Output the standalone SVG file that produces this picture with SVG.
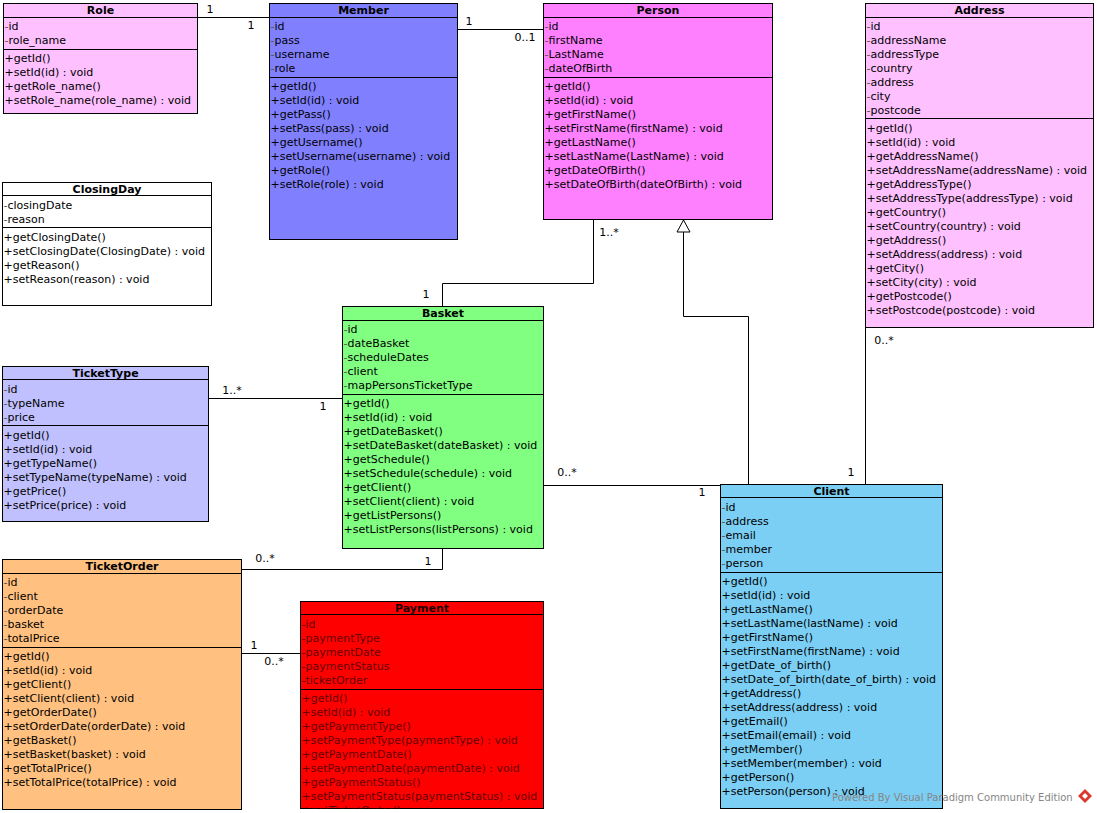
<svg xmlns="http://www.w3.org/2000/svg" width="1097" height="813" viewBox="0 0 1097 813">
  <defs>
    <style>
      text { font-family: "DejaVu Sans", "Liberation Sans", sans-serif; font-size: 11px; fill: #000; }
      .title { font-weight: bold; text-anchor: middle; }
      .box { stroke: #000; stroke-width: 1; }
      .div { stroke: #000; stroke-width: 1; }
      .vis { fill: #555; }
      .conn { fill: none; stroke: #000; stroke-width: 1; }
      .mult { text-anchor: middle; }
      .pay text { fill: #640000; }
      .pay text.title { fill: #1a0000; }
      .brand { font-size: 10px; fill: #858585; }
    </style>
    <clipPath id="payClip"><rect x="300.5" y="601.5" width="243" height="207"/></clipPath>
  </defs>
  <rect width="1097" height="813" fill="#fff"/>

  <!-- associations and generalization -->
  <g id="connectors">
    <path class="conn" d="M197.5,17.5 H269.5"/>
    <path class="conn" d="M457.5,29.5 H543.5"/>
    <path class="conn" d="M593.5,219.5 V283.5 H442.5 V306.5"/>
    <path class="conn" d="M748.5,484.5 V316.5 H683.5 V232"/>
    <polygon points="683.5,220 677,232 690,232" fill="#fff" stroke="#000" stroke-width="1"/>
    <path class="conn" d="M865.5,327.5 V484.5"/>
    <path class="conn" d="M543.5,485.5 H720.5"/>
    <path class="conn" d="M208.5,398.5 H342.5"/>
    <path class="conn" d="M442.5,548.5 V569.5 H241.5"/>
    <path class="conn" d="M241.5,653.5 H300.5"/>
    <text class="mult" x="210" y="13">1</text>
    <text class="mult" x="251" y="29">1</text>
    <text class="mult" x="469" y="25">1</text>
    <text class="mult" x="525" y="41">0..1</text>
    <text class="mult" x="609" y="236">1..*</text>
    <text class="mult" x="426" y="298">1</text>
    <text class="mult" x="232" y="394">1..*</text>
    <text class="mult" x="323" y="410">1</text>
    <text class="mult" x="567" y="476">0..*</text>
    <text class="mult" x="702" y="496">1</text>
    <text class="mult" x="884" y="344">0..*</text>
    <text class="mult" x="851" y="476">1</text>
    <text class="mult" x="265" y="562">0..*</text>
    <text class="mult" x="428" y="565">1</text>
    <text class="mult" x="254" y="649">1</text>
    <text class="mult" x="274" y="665">0..*</text>
  </g>

  <g id="Role">
    <rect class="box" x="3.5" y="3.5" width="194" height="110" fill="#ffc0ff"/>
    <path class="div" d="M3.5,17.5 H197.5 M3.5,49.5 H197.5"/>
    <text class="title" x="100.5" y="14">Role</text>
    <text x="4.5" y="30"><tspan class="vis">-</tspan>id</text>
    <text x="4.5" y="44"><tspan class="vis">-</tspan>role_name</text>
    <text x="4.5" y="62">+getId()</text>
    <text x="4.5" y="76">+setId(id) : void</text>
    <text x="4.5" y="90">+getRole_name()</text>
    <text x="4.5" y="104">+setRole_name(role_name) : void</text>
  </g>

  <g id="Member">
    <rect class="box" x="269.5" y="3.5" width="188" height="236" fill="#8080ff"/>
    <path class="div" d="M269.5,17.5 H457.5 M269.5,77.5 H457.5"/>
    <text class="title" x="363.5" y="14">Member</text>
    <text x="270.5" y="30"><tspan class="vis">-</tspan>id</text>
    <text x="270.5" y="44"><tspan class="vis">-</tspan>pass</text>
    <text x="270.5" y="58"><tspan class="vis">-</tspan>username</text>
    <text x="270.5" y="72"><tspan class="vis">-</tspan>role</text>
    <text x="270.5" y="90">+getId()</text>
    <text x="270.5" y="104">+setId(id) : void</text>
    <text x="270.5" y="118">+getPass()</text>
    <text x="270.5" y="132">+setPass(pass) : void</text>
    <text x="270.5" y="146">+getUsername()</text>
    <text x="270.5" y="160">+setUsername(username) : void</text>
    <text x="270.5" y="174">+getRole()</text>
    <text x="270.5" y="188">+setRole(role) : void</text>
  </g>

  <g id="Person">
    <rect class="box" x="543.5" y="3.5" width="229" height="216" fill="#ff80ff"/>
    <path class="div" d="M543.5,17.5 H772.5 M543.5,77.5 H772.5"/>
    <text class="title" x="658" y="14">Person</text>
    <text x="544.5" y="30"><tspan class="vis">-</tspan>id</text>
    <text x="544.5" y="44"><tspan class="vis">-</tspan>firstName</text>
    <text x="544.5" y="58"><tspan class="vis">-</tspan>LastName</text>
    <text x="544.5" y="72"><tspan class="vis">-</tspan>dateOfBirth</text>
    <text x="544.5" y="90">+getId()</text>
    <text x="544.5" y="104">+setId(id) : void</text>
    <text x="544.5" y="118">+getFirstName()</text>
    <text x="544.5" y="132">+setFirstName(firstName) : void</text>
    <text x="544.5" y="146">+getLastName()</text>
    <text x="544.5" y="160">+setLastName(LastName) : void</text>
    <text x="544.5" y="174">+getDateOfBirth()</text>
    <text x="544.5" y="188">+setDateOfBirth(dateOfBirth) : void</text>
  </g>

  <g id="Address">
    <rect class="box" x="865.5" y="3.5" width="228" height="324" fill="#ffc0ff"/>
    <path class="div" d="M865.5,17.5 H1093.5 M865.5,118.5 H1093.5"/>
    <text class="title" x="979.5" y="14">Address</text>
    <text x="866.5" y="30"><tspan class="vis">-</tspan>id</text>
    <text x="866.5" y="44"><tspan class="vis">-</tspan>addressName</text>
    <text x="866.5" y="58"><tspan class="vis">-</tspan>addressType</text>
    <text x="866.5" y="72"><tspan class="vis">-</tspan>country</text>
    <text x="866.5" y="86"><tspan class="vis">-</tspan>address</text>
    <text x="866.5" y="100"><tspan class="vis">-</tspan>city</text>
    <text x="866.5" y="114"><tspan class="vis">-</tspan>postcode</text>
    <text x="866.5" y="132">+getId()</text>
    <text x="866.5" y="146">+setId(id) : void</text>
    <text x="866.5" y="160">+getAddressName()</text>
    <text x="866.5" y="174">+setAddressName(addressName) : void</text>
    <text x="866.5" y="188">+getAddressType()</text>
    <text x="866.5" y="202">+setAddressType(addressType) : void</text>
    <text x="866.5" y="216">+getCountry()</text>
    <text x="866.5" y="230">+setCountry(country) : void</text>
    <text x="866.5" y="244">+getAddress()</text>
    <text x="866.5" y="258">+setAddress(address) : void</text>
    <text x="866.5" y="272">+getCity()</text>
    <text x="866.5" y="286">+setCity(city) : void</text>
    <text x="866.5" y="300">+getPostcode()</text>
    <text x="866.5" y="314">+setPostcode(postcode) : void</text>
  </g>

  <g id="ClosingDay">
    <rect class="box" x="2.5" y="182.5" width="209" height="123" fill="#fff"/>
    <path class="div" d="M2.5,195.5 H211.5 M2.5,227.5 H211.5"/>
    <text class="title" x="107" y="193">ClosingDay</text>
    <text x="3.5" y="209"><tspan class="vis">-</tspan>closingDate</text>
    <text x="3.5" y="223"><tspan class="vis">-</tspan>reason</text>
    <text x="3.5" y="241">+getClosingDate()</text>
    <text x="3.5" y="255">+setClosingDate(ClosingDate) : void</text>
    <text x="3.5" y="269">+getReason()</text>
    <text x="3.5" y="283">+setReason(reason) : void</text>
  </g>

  <g id="TicketType">
    <rect class="box" x="2.5" y="366.5" width="206" height="155" fill="#c0c0ff"/>
    <path class="div" d="M2.5,379.5 H208.5 M2.5,425.5 H208.5"/>
    <text class="title" x="105.5" y="377">TicketType</text>
    <text x="3.5" y="393"><tspan class="vis">-</tspan>id</text>
    <text x="3.5" y="407"><tspan class="vis">-</tspan>typeName</text>
    <text x="3.5" y="421"><tspan class="vis">-</tspan>price</text>
    <text x="3.5" y="439">+getId()</text>
    <text x="3.5" y="453">+setId(id) : void</text>
    <text x="3.5" y="467">+getTypeName()</text>
    <text x="3.5" y="481">+setTypeName(typeName) : void</text>
    <text x="3.5" y="495">+getPrice()</text>
    <text x="3.5" y="509">+setPrice(price) : void</text>
  </g>

  <g id="Basket">
    <rect class="box" x="342.5" y="306.5" width="201" height="242" fill="#80ff80"/>
    <path class="div" d="M342.5,320.5 H543.5 M342.5,394.5 H543.5"/>
    <text class="title" x="443" y="317">Basket</text>
    <text x="343.5" y="333"><tspan class="vis">-</tspan>id</text>
    <text x="343.5" y="347"><tspan class="vis">-</tspan>dateBasket</text>
    <text x="343.5" y="361"><tspan class="vis">-</tspan>scheduleDates</text>
    <text x="343.5" y="375"><tspan class="vis">-</tspan>client</text>
    <text x="343.5" y="389"><tspan class="vis">-</tspan>mapPersonsTicketType</text>
    <text x="343.5" y="407">+getId()</text>
    <text x="343.5" y="421">+setId(id) : void</text>
    <text x="343.5" y="435">+getDateBasket()</text>
    <text x="343.5" y="449">+setDateBasket(dateBasket) : void</text>
    <text x="343.5" y="463">+getSchedule()</text>
    <text x="343.5" y="477">+setSchedule(schedule) : void</text>
    <text x="343.5" y="491">+getClient()</text>
    <text x="343.5" y="505">+setClient(client) : void</text>
    <text x="343.5" y="519">+getListPersons()</text>
    <text x="343.5" y="533">+setListPersons(listPersons) : void</text>
  </g>

  <g id="TicketOrder">
    <rect class="box" x="2.5" y="559.5" width="239" height="250" fill="#ffc080"/>
    <path class="div" d="M2.5,573.5 H241.5 M2.5,647.5 H241.5"/>
    <text class="title" x="122" y="570">TicketOrder</text>
    <text x="3.5" y="586"><tspan class="vis">-</tspan>id</text>
    <text x="3.5" y="600"><tspan class="vis">-</tspan>client</text>
    <text x="3.5" y="614"><tspan class="vis">-</tspan>orderDate</text>
    <text x="3.5" y="628"><tspan class="vis">-</tspan>basket</text>
    <text x="3.5" y="642"><tspan class="vis">-</tspan>totalPrice</text>
    <text x="3.5" y="660">+getId()</text>
    <text x="3.5" y="674">+setId(id) : void</text>
    <text x="3.5" y="688">+getClient()</text>
    <text x="3.5" y="702">+setClient(client) : void</text>
    <text x="3.5" y="716">+getOrderDate()</text>
    <text x="3.5" y="730">+setOrderDate(orderDate) : void</text>
    <text x="3.5" y="744">+getBasket()</text>
    <text x="3.5" y="758">+setBasket(basket) : void</text>
    <text x="3.5" y="772">+getTotalPrice()</text>
    <text x="3.5" y="786">+setTotalPrice(totalPrice) : void</text>
  </g>

  <g id="Payment" class="pay">
    <rect class="box" x="300.5" y="601.5" width="243" height="207" fill="#ff0000"/>
    <path class="div" d="M300.5,614.5 H543.5 M300.5,689.5 H543.5"/>
    <text class="title" x="422" y="612">Payment</text>
    <g clip-path="url(#payClip)">
      <text x="301.5" y="628">-id</text>
      <text x="301.5" y="642">-paymentType</text>
      <text x="301.5" y="656">-paymentDate</text>
      <text x="301.5" y="670">-paymentStatus</text>
      <text x="301.5" y="684">-ticketOrder</text>
      <text x="301.5" y="702">+getId()</text>
      <text x="301.5" y="716">+setId(id) : void</text>
      <text x="301.5" y="730">+getPaymentType()</text>
      <text x="301.5" y="744">+setPaymentType(paymentType) : void</text>
      <text x="301.5" y="758">+getPaymentDate()</text>
      <text x="301.5" y="772">+setPaymentDate(paymentDate) : void</text>
      <text x="301.5" y="786">+getPaymentStatus()</text>
      <text x="301.5" y="800">+setPaymentStatus(paymentStatus) : void</text>
      <text x="301.5" y="814">+getTicketOrder()</text>
    </g>
  </g>

  <g id="Client">
    <rect class="box" x="720.5" y="484.5" width="222" height="324" fill="#7ccff4"/>
    <path class="div" d="M720.5,497.5 H942.5 M720.5,572.5 H942.5"/>
    <text class="title" x="831.5" y="495">Client</text>
    <text x="721.5" y="511"><tspan class="vis">-</tspan>id</text>
    <text x="721.5" y="525"><tspan class="vis">-</tspan>address</text>
    <text x="721.5" y="539"><tspan class="vis">-</tspan>email</text>
    <text x="721.5" y="553"><tspan class="vis">-</tspan>member</text>
    <text x="721.5" y="567"><tspan class="vis">-</tspan>person</text>
    <text x="721.5" y="585">+getId()</text>
    <text x="721.5" y="599">+setId(id) : void</text>
    <text x="721.5" y="613">+getLastName()</text>
    <text x="721.5" y="627">+setLastName(lastName) : void</text>
    <text x="721.5" y="641">+getFirstName()</text>
    <text x="721.5" y="655">+setFirstName(firstName) : void</text>
    <text x="721.5" y="669">+getDate_of_birth()</text>
    <text x="721.5" y="683">+setDate_of_birth(date_of_birth) : void</text>
    <text x="721.5" y="697">+getAddress()</text>
    <text x="721.5" y="711">+setAddress(address) : void</text>
    <text x="721.5" y="725">+getEmail()</text>
    <text x="721.5" y="739">+setEmail(email) : void</text>
    <text x="721.5" y="753">+getMember()</text>
    <text x="721.5" y="767">+setMember(member) : void</text>
    <text x="721.5" y="781">+getPerson()</text>
    <text x="721.5" y="795">+setPerson(person) : void</text>
  </g>

  <!-- editor footer mark -->
  <g id="footer">
    <text class="brand" x="832" y="801">Powered By Visual Paradigm Community Edition</text>
    <polygon points="1085,789 1092,796 1085,803 1078,796" fill="#d9382e"/>
    <polygon points="1085,793 1088,796 1085,799 1082,796" fill="#fff"/>
  </g>
</svg>
